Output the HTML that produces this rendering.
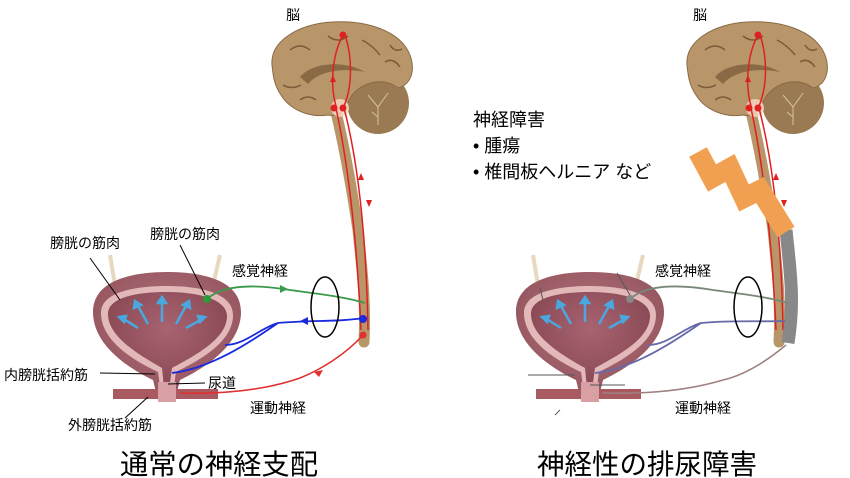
<!DOCTYPE html>
<html><head><meta charset="utf-8"><style>
html,body{margin:0;padding:0;background:#fff;}
svg{display:block;font-family:"Liberation Sans","Noto Sans CJK JP",sans-serif;}
</style></head><body>
<svg width="850" height="478" viewBox="0 0 850 478" xmlns="http://www.w3.org/2000/svg">
<defs>
<radialGradient id="bl" cx="50%" cy="40%" r="60%"><stop offset="0" stop-color="#b0707a"/><stop offset="1" stop-color="#94545e"/></radialGradient>
<radialGradient id="cav" cx="50%" cy="35%" r="60%"><stop offset="0" stop-color="#a86470"/><stop offset="1" stop-color="#864652"/></radialGradient>
<g id="brain">
  <path d="M336,112 C345,150 352,190 358,230 C362,270 366,300 364,342" stroke="#b8966a" stroke-width="11" fill="none" stroke-linecap="round"/>
  <circle cx="378" cy="103" r="31" fill="#9a7a52"/>
  <path d="M272,65 C270,40 300,24 332,22 C365,20 400,30 410,55 C416,72 410,85 398,88 C385,78 365,80 352,95 C345,108 340,118 328,115 C310,118 290,110 281,95 C274,85 273,75 272,65 Z" fill="#b8966a" stroke="#8a6a45" stroke-width="1"/>
  <path d="M300,77 C312,62 345,60 365,72 C345,68 320,70 308,84 Z" fill="#8a6a45"/>
  <path d="M290,50 q10,-8 20,0 M328,36 q10,8 20,0 M362,40 q10,5 18,15 M283,85 q8,5 18,0 M385,62 q8,-5 15,5 M300,100 q8,-6 16,0 M390,45 q5,8 12,4" stroke="#7a5a38" fill="none" stroke-width="1.5"/>
  <path d="M368,95 l10,12 l10,-14 M378,107 l0,18 M372,112 l6,5" stroke="#d8c0a0" fill="none"/>
  <circle cx="340" cy="108" r="9" fill="#f3d3c0" opacity=".85"/>
  <path d="M343,35 C332,55 330,85 336,106 M345,35 C352,55 353,85 344,106" stroke="#e02020" fill="none" stroke-width="1.5"/>
  <path d="M336,108 C345,150 356,220 361,330 M344,108 C355,150 366,220 368,330" stroke="#e02020" fill="none" stroke-width="1.5"/>
  <circle cx="343" cy="35" r="3.5" fill="#e02020"/><circle cx="334" cy="108" r="3.5" fill="#e02020"/><circle cx="343" cy="108" r="3.5" fill="#e02020"/>
  <path d="M330,82 l3,-7 l3,7 Z M366,200 l3,7 l3,-7 Z M358,180 l3,-7 l3,7 Z" fill="#e02020"/>
</g>
<g id="bladder">
  <line x1="110" y1="255" x2="115" y2="285" stroke="#e8d8c0" stroke-width="4"/><line x1="220" y1="255" x2="213" y2="285" stroke="#e8d8c0" stroke-width="4"/>
  <path d="M93,312 C93,282 128,272 167,272 C207,272 241,282 241,312 C241,345 205,368 180,380 L175,400 L158,400 L153,380 C128,368 93,345 93,312 Z" fill="url(#bl)"/>
  <path d="M101,313 C101,292 135,286 167,286 C200,286 233,293 233,315 C233,342 200,360 176,372 L172,400 L162,400 L158,372 C132,360 101,340 101,313 Z" fill="#e3b8b8"/>
  <path d="M108,314 C108,297 138,292 167,292 C197,292 227,299 227,316 C227,338 198,354 172,368 L168,398 L165,398 L162,368 C137,354 108,336 108,314 Z" fill="url(#cav)"/>
  <rect x="113" y="389" width="105" height="10" fill="#a85a60"/>
  <rect x="158" y="382" width="18" height="20" fill="#d8a0a4"/>
  <g stroke="#4aa8e0" stroke-width="2.5" fill="#4aa8e0">
   <line x1="162" y1="322" x2="162" y2="302"/><line x1="148" y1="324" x2="138" y2="306"/><line x1="176" y1="324" x2="186" y2="306"/><line x1="138" y1="328" x2="122" y2="318"/><line x1="186" y1="328" x2="204" y2="318"/>
   <path d="M158,303 l4,-6 l4,6Z M134,308 l1,-7 l6,4Z M190,308 l-1,-7 l-6,4Z M124,322 l-5,-5 l7,-1Z M200,322 l5,-5 l-7,-1Z"/>
  </g>
</g>
</defs>

<!-- LEFT -->
<use href="#brain"/>
<use href="#bladder"/>
<path d="M207,299 C225,283 260,285 290,290 C320,294 345,297 365,303" stroke="#3a9a4a" fill="none" stroke-width="1.8"/>
<path d="M280,285 l8,4 l-8,4Z" fill="#3a9a4a"/>
<circle cx="207" cy="299" r="4" fill="#2a9a3a"/>
<path d="M363,318 C340,322 310,320 278,323 C260,328 245,345 225,345 M278,323 C260,335 215,368 172,373" stroke="#1a2ae0" fill="none" stroke-width="1.8"/>
<path d="M300,321 l8,-4 l0,8Z" fill="#1a2ae0"/>
<circle cx="363" cy="319" r="4" fill="#1a2ae0"/>
<path d="M363,335 C345,355 320,370 300,378 C260,392 215,394 180,393" stroke="#e03030" fill="none" stroke-width="1.6"/>
<path d="M314,372 l9,-2 l-4,7Z" fill="#e03030"/>
<circle cx="363" cy="335" r="3.5" fill="#e03030"/>
<ellipse cx="325" cy="307" rx="14" ry="30" fill="none" stroke="#000" stroke-width="1.5"/>
<g stroke="#000" stroke-width="1"><line x1="90" y1="258" x2="120" y2="300"/><line x1="180" y1="245" x2="205" y2="295"/><line x1="100" y1="373" x2="155" y2="374"/><line x1="205" y1="383" x2="168" y2="384"/><line x1="125" y1="418" x2="148" y2="397"/></g>
<g font-size="14" fill="#000">
<text x="286" y="20">脳</text>
<text x="50" y="248">膀胱の筋肉</text>
<text x="150" y="239">膀胱の筋肉</text>
<text x="232" y="276">感覚神経</text>
<text x="4" y="380">内膀胱括約筋</text>
<text x="208" y="388">尿道</text>
<text x="250" y="413">運動神経</text>
<text x="68" y="430">外膀胱括約筋</text>
</g>
<text x="120" y="474" font-size="28" textLength="198" lengthAdjust="spacingAndGlyphs">通常の神経支配</text>

<!-- RIGHT -->
<use href="#brain" transform="translate(415,0)"/>
<path d="M786,230 C790,270 795,300 788,343" stroke="#888" stroke-width="13" fill="none"/>
<polyline points="698,152 712,178 730,168 744,198 760,190 786,232" stroke="#f0a050" stroke-width="20" fill="none" stroke-linejoin="miter" stroke-miterlimit="10"/>
<use href="#bladder" transform="translate(423,0)"/>
<path d="M630,299 C648,283 683,285 713,290 C743,294 768,297 788,303" stroke="#778877" fill="none" stroke-width="1.8"/>
<circle cx="630" cy="299" r="4" fill="#888"/>
<path d="M785,321 C763,322 733,320 701,323 C683,328 668,345 648,345 M701,323 C683,335 638,368 595,373" stroke="#6668a8" fill="none" stroke-width="1.8"/>
<path d="M786,345 C768,360 745,375 723,380 C683,392 638,394 603,393" stroke="#a08080" fill="none" stroke-width="1.6"/>
<ellipse cx="748" cy="307" rx="14" ry="30" fill="none" stroke="#000" stroke-width="1.5"/>
<g stroke="#555" stroke-width="1"><line x1="528" y1="375" x2="575" y2="375"/><line x1="590" y1="385" x2="625" y2="385"/><line x1="540" y1="288" x2="543" y2="300"/><line x1="617" y1="273" x2="630" y2="295"/><line x1="555" y1="415" x2="560" y2="410"/></g>
<g font-size="14" fill="#000">
<text x="693" y="20">脳</text>
<text x="655" y="276">感覚神経</text>
<text x="675" y="413">運動神経</text>
</g>
<g font-size="18" fill="#000">
<text x="473" y="126">神経障害</text>
<text x="473" y="152">•  腫瘍</text>
<text x="473" y="178">•  椎間板ヘルニア  など</text>
</g>
<text x="537" y="474" font-size="28" textLength="220" lengthAdjust="spacingAndGlyphs">神経性の排尿障害</text>
</svg>
</body></html>
